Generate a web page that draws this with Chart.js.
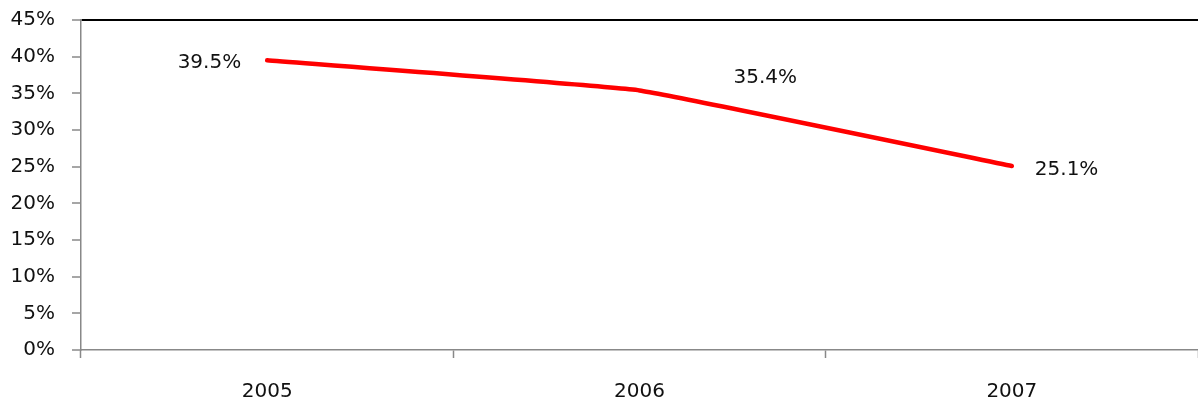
<!DOCTYPE html>
<html>
<head>
<meta charset="utf-8">
<script src="https://cdn.jsdelivr.net/npm/chart.js@4.4.1/dist/chart.umd.min.js"></script>
<style>
    html, body { margin: 0; padding: 0; background: #fff; }
    #wrap { width: 1198px; height: 410px; }
</style>
</head>
<body>
<div id="wrap"><canvas id="trendChart"></canvas></div>
<script>
// Data
var years = ['2005', '2006', '2007'];
var shares = [39.5, 35.4, 25.1];
var yTicks = [0, 5, 10, 15, 20, 25, 30, 35, 40, 45];

// where each value label sits relative to its point (dx, dy, align)
var labelPlace = [
    { dx: -26, dy: 2, align: 'right' },
    { dx: 94, dy: -13, align: 'left' },
    { dx: 23, dy: 4, align: 'left' }
];

var FONT = '"DejaVu Sans", sans-serif';

var valueLabels = {
    id: 'valueLabels',
    afterDatasetsDraw: function (chart)
    {
        var ctx = chart.ctx;
        var meta = chart.getDatasetMeta(0);
        ctx.save();
        ctx.font = '20px ' + FONT;
        ctx.fillStyle = '#111';
        ctx.textBaseline = 'middle';
        meta.data.forEach(function (pt, i)
        {
            var p = labelPlace[i];
            ctx.textAlign = p.align;
            ctx.fillText(shares[i].toFixed(1) + '%', pt.x + p.dx, pt.y + p.dy);
        });
        ctx.restore();
    }
};

var ctx = document.getElementById('trendChart').getContext('2d');
var myChart = new Chart(ctx,
{
    type: 'line',
    data:
    {
        labels: years,
        datasets: [
        {
            data: shares,
            borderColor: '#ff0000',
            borderWidth: 4.5,
            borderCapStyle: 'round',
            tension: 0.08,
            pointRadius: 0,
            fill: false
        }]
    },
    options:
    {
        responsive: true,
        maintainAspectRatio: false,
        animation: false,
        layout: { padding: { top: 20, right: 0, left: 0, bottom: 0 } },
        plugins:
        {
            legend: { display: false },
            tooltip: { enabled: false }
        },
        scales:
        {
            x:
            {
                offset: true,
                afterFit: function (s) { s.height = 60; },
                border: { color: '#888', width: 1.5 },
                grid:
                {
                    offset: true,
                    drawOnChartArea: false,
                    tickLength: 8,
                    tickColor: '#888',
                    tickWidth: 1.5
                },
                ticks:
                {
                    padding: 22,
                    color: '#111',
                    font: { family: FONT, size: 20 }
                }
            },
            y:
            {
                min: 0,
                max: 45,
                afterFit: function (s)
                {
                    s.width = 81;
                    s.paddingTop = 0;
                    s.paddingBottom = 0;
                },
                afterBuildTicks: function (s)
                {
                    s.ticks = yTicks.map(function (v) { return { value: v }; });
                },
                border: { color: '#888', width: 1.5 },
                grid:
                {
                    tickLength: 9,
                    tickColor: '#888',
                    tickWidth: 1.5,
                    lineWidth: 2,
                    color: function (c)
                    {
                        return c.tick && c.tick.value === 45 ? '#000' : 'rgba(0,0,0,0)';
                    }
                },
                ticks:
                {
                    padding: 17,
                    color: '#111',
                    font: { family: FONT, size: 20 },
                    callback: function (v) { return v + '%'; }
                }
            }
        }
    },
    plugins: [valueLabels]
});
</script>
</body>
</html>
